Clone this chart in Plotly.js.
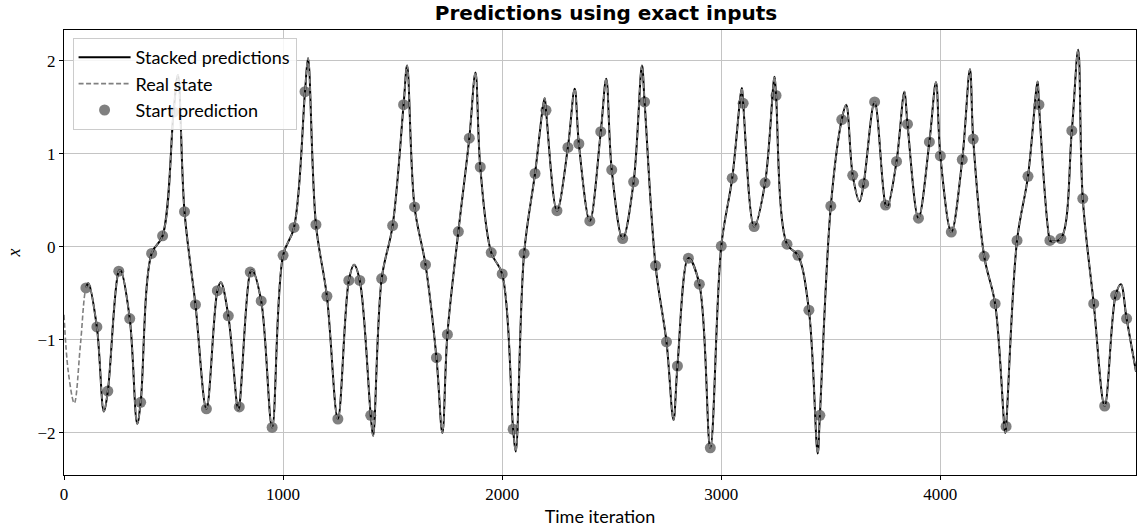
<!DOCTYPE html>
<html>
<head>
<meta charset="utf-8">
<script src="https://cdn.plot.ly/plotly-3.0.1.min.js"></script>
<style>html,body{margin:0;padding:0;background:#fff;}#chart{width:1137px;height:530px;}</style>
</head>
<body>
<div id="chart"></div>
<script>
// Start-of-prediction iterations and values (grey dots)
const startIters = [100,150,200,250,300,350,400,450,500,550,600,650,700,750,800,850,900,950,
  1000,1050,1100,1150,1200,1250,1300,1350,1400,1450,1500,1550,1600,1650,1700,1750,1800,1850,1900,1950,
  2000,2050,2100,2150,2200,2250,2300,2350,2400,2450,2500,2550,2600,2650,2700,2750,2800,2850,2900,2950,
  3000,3050,3100,3150,3200,3250,3300,3350,3400,3450,3500,3550,3600,3650,3700,3750,3800,3850,3900,3950,
  4000,4050,4100,4150,4200,4250,4300,4350,4400,4450,4500,4550,4600,4650,4700,4750,4800,4850];
const startValues = [-0.44,-0.86,-1.55,-0.26,-0.77,-1.67,-0.07,0.12,1.45,0.38,-0.62,-1.74,-0.47,-0.74,-1.72,-0.27,-0.58,-1.94,
  -0.09,0.21,1.67,0.24,-0.53,-1.85,-0.36,-0.36,-1.81,-0.34,0.23,1.53,0.43,-0.19,-1.19,-0.94,0.165,1.17,0.86,-0.06,
  -0.29,-1.96,-0.07,0.79,1.47,0.39,1.07,1.11,0.28,1.24,0.83,0.09,0.70,1.56,-0.20,-1.02,-1.28,-0.12,-0.40,-2.16,
  0.01,0.74,1.545,0.22,0.69,1.63,0.03,-0.09,-0.68,-1.81,0.44,1.37,0.77,0.68,1.56,0.45,0.92,1.32,0.31,1.13,
  0.98,0.16,0.94,1.16,-0.10,-0.61,-1.93,0.07,0.76,1.53,0.07,0.09,1.25,0.52,-0.61,-1.71,-0.52,-0.77];

// Peaks / troughs of the trajectory between the start points
const extremaIters = [111,182,258,334,520,716,795,859,1114,1324,1411,1566,1727,1878,2062,2194,2331,2475,2638,2782,
  3094,3243,3440,3570,3631,3758,3836,3980,4135,4296,4444,4505,4629,4824,4893];
const extremaValues = [-0.39,-1.77,-0.25,-1.90,1.85,-0.38,-1.75,-0.25,2.03,-0.19,-2.03,1.95,-2.00,1.875,-2.20,1.60,1.70,1.81,1.95,-1.86,
  1.71,1.83,-2.22,1.53,0.49,0.43,1.67,1.77,1.91,-2.0,1.78,0.06,2.12,-0.40,-1.34];

// Initial part of the real state before the first prediction
const initIters = [0,20,47,75];
const initValues = [-0.73,-1.35,-1.68,-1.05];

// Build curves
function merge(xsA, ysA, xsB, ysB){
  const pts = [];
  xsA.forEach((x,i)=>pts.push([x,ysA[i]]));
  xsB.forEach((x,i)=>pts.push([x,ysB[i]]));
  pts.sort((a,b)=>a[0]-b[0]);
  return {x: pts.map(p=>p[0]), y: pts.map(p=>p[1])};
}
const pred = merge(startIters, startValues, extremaIters, extremaValues);
const real = merge(initIters, initValues, pred.x, pred.y);

const grey = 'rgb(128,128,128)';
const traces = [
  {x: startIters, y: startValues, mode: 'markers', name: 'Start prediction', legendrank: 3,
   marker: {color: grey, size: 11}},
  {x: pred.x, y: pred.y, mode: 'lines', name: 'Stacked predictions', legendrank: 1,
   line: {color: 'black', width: 2, shape: 'spline', smoothing: 1}},
  {x: real.x, y: real.y, mode: 'lines', name: 'Real state', legendrank: 2,
   line: {color: grey, width: 1.6, dash: '5px,2.5px', shape: 'spline', smoothing: 1}}
];

const tickFont = {family: 'Liberation Serif, DejaVu Serif, serif', size: 17, color: 'black'};
const layout = {
  width: 1137, height: 530,
  margin: {l: 64, r: 1, t: 30, b: 55},
  paper_bgcolor: 'white', plot_bgcolor: 'white',
  title: {text: '<b>Predictions using exact inputs</b>', x: 0.533, xanchor: 'center', y: 0.976, yanchor: 'middle',
          yref: 'container', font: {family: 'DejaVu Sans, sans-serif', size: 20, color: 'black'}},
  xaxis: {range: [0, 4893], tickvals: [0,1000,2000,3000,4000], ticktext: ['0','1000','2000','3000','4000'],
          showgrid: true, gridcolor: '#c4c4c4', gridwidth: 1, zeroline: false,
          showline: true, mirror: true, linecolor: 'black', linewidth: 1,
          ticks: 'outside', ticklen: 4, tickcolor: 'black', tickfont: tickFont,
          title: {text: 'Time iteration', standoff: 6, font: {family: 'Lato, DejaVu Sans, sans-serif', size: 18, color: 'black'}}},
  yaxis: {range: [-2.452, 2.333], tickvals: [-2,-1,0,1,2], ticktext: ['\u22122','\u22121','0','1','2'],
          showgrid: true, gridcolor: '#c4c4c4', gridwidth: 1, zeroline: false,
          showline: true, mirror: true, linecolor: 'black', linewidth: 1,
          ticks: 'outside', ticklen: 4, tickcolor: 'black', tickfont: tickFont,
          title: {text: '<i>x</i>', standoff: 12, font: {family: 'Liberation Serif, DejaVu Serif, serif', size: 18, color: 'black'}}},
  legend: {x: 0.008, y: 0.982, xanchor: 'left', yanchor: 'top', bgcolor: 'rgba(255,255,255,0.85)',
           bordercolor: '#cccccc', borderwidth: 1, itemwidth: 52, traceorder: 'normal',
           font: {family: 'Lato, DejaVu Sans, sans-serif', size: 18, color: 'black'}},
  showlegend: true
};
Plotly.newPlot('chart', traces, layout, {staticPlot: true, displayModeBar: false});
</script>
</body>
</html>
